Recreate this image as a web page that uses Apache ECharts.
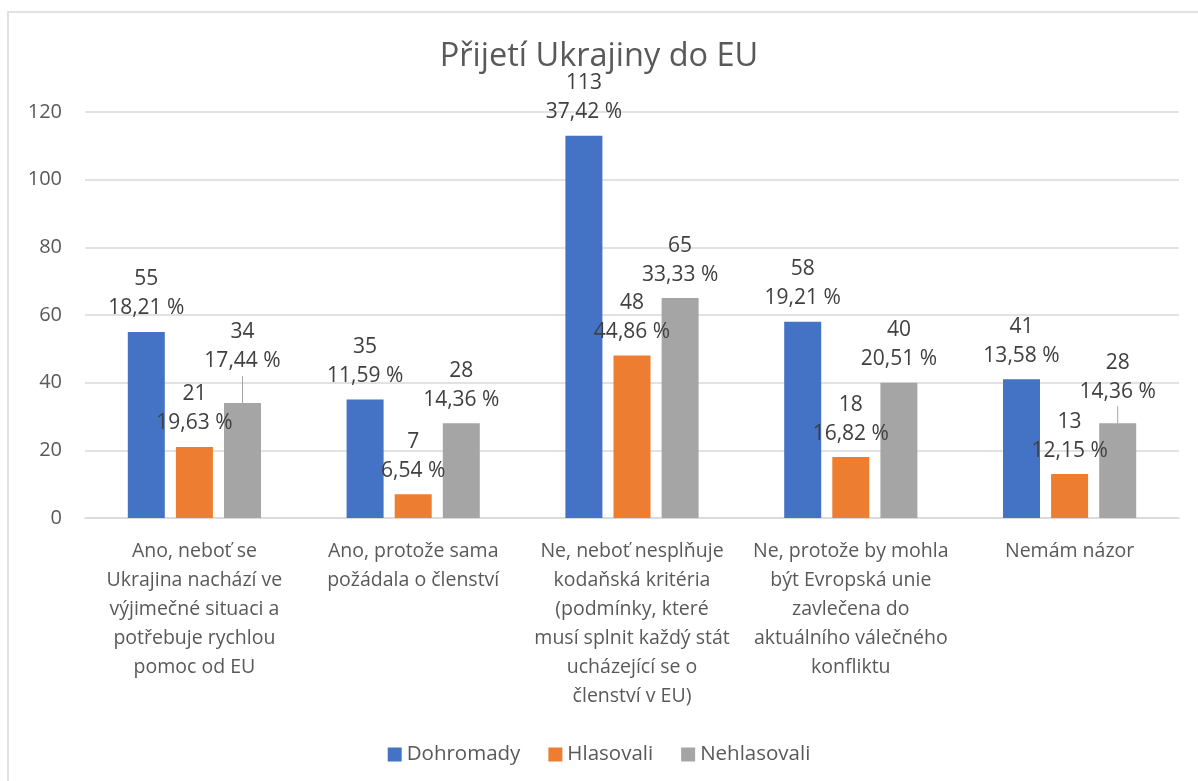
<!DOCTYPE html>
<html>
<head>
<meta charset="utf-8">
<title>Přijetí Ukrajiny do EU</title>
<script src="https://cdn.jsdelivr.net/npm/echarts@6/dist/echarts.min.js"></script>
<style>
  html, body { margin: 0; padding: 0; background: #fff; }
  #chart { width: 1198px; height: 781px; }
</style>
</head>
<body>
<div id="chart"></div>
<script>
// kategorie (zalomeno jako v originale)
var categories = [
  'Ano, neboť se\nUkrajina nachází ve\nvýjimečné situaci a\npotřebuje rychlou\npomoc od EU',
  'Ano, protože sama\npožádala o členství',
  'Ne, neboť nesplňuje\nkodaňská kritéria\n(podmínky, které\nmusí splnit každý stát\nucházející se o\nčlenství v EU)',
  'Ne, protože by mohla\nbýt Evropská unie\nzavlečena do\naktuálního válečného\nkonfliktu',
  'Nemám názor'
];
var seriesNames = ['Dohromady', 'Hlasovali', 'Nehlasovali'];

var totalValues = [55, 35, 113, 58, 41];
var totalPct = ['18,21 %', '11,59 %', '37,42 %', '19,21 %', '13,58 %'];
var votedValues = [21, 7, 48, 18, 13];
var votedPct = ['19,63 %', '6,54 %', '44,86 %', '16,82 %', '12,15 %'];
var notVotedValues = [34, 28, 65, 40, 28];
var notVotedPct = ['17,44 %', '14,36 %', '33,33 %', '20,51 %', '14,36 %'];

var yTicks = { min: 0, max: 120, interval: 20 };

var FONT = '"Open Sans", "Noto Sans", sans-serif';
var colors = ['#4472C4', '#ED7D31', '#A5A5A5'];

// popisky posunuté nahoru s vodící čarou (série_index: posun)
var shifted = { '2_0': -18, '2_4': -8 };

var makeSeries = function(idx, values, pcts) {
  var data = values.map(function(v, i) {
    var item = { value: v };
    if (shifted[idx + '_' + i]) {
      item.labelLine = { show: true };
    }
    return item;
  });
  return {
    name: seriesNames[idx],
    type: 'bar',
    barWidth: 37,
    barGap: '30%',
    itemStyle: { color: colors[idx] },
    label: {
      show: true,
      position: 'top',
      distance: 9,
      fontFamily: FONT,
      fontSize: 21,
      lineHeight: 29,
      color: '#404040',
      formatter: function(p) {
        return p.value + '\n' + pcts[p.dataIndex];
      }
    },
    labelLine: {
      show: false,
      lineStyle: { color: '#A6A6A6', width: 1 }
    },
    labelLayout: function(p) {
      var dy = shifted[idx + '_' + p.dataIndex];
      return dy ? { dy: dy } : {};
    },
    data: data
  };
};

var chart = echarts.init(document.getElementById('chart'));

var option = {
  animation: false,
  textStyle: { fontFamily: FONT },
  graphic: [{
    type: 'rect',
    shape: { x: 8, y: 12, width: 1400, height: 1000 },
    style: { fill: 'none', stroke: '#D9D9D9', lineWidth: 1.5 },
    silent: true
  }],
  title: {
    text: 'Přijetí Ukrajiny do EU',
    left: 'center',
    top: 37,
    padding: 0,
    textStyle: {
      fontFamily: FONT,
      fontSize: 32.5,
      fontWeight: 'normal',
      color: '#595959',
      lineHeight: 40
    }
  },
  legend: {
    data: seriesNames,
    left: 'center',
    top: 739,
    icon: 'rect',
    itemWidth: 14,
    itemHeight: 14,
    itemGap: 28,
    textStyle: { fontFamily: FONT, fontSize: 20.5, color: '#595959' }
  },
  grid: {
    left: 85,
    right: 19,
    top: 112,
    bottom: 263,
    containLabel: false
  },
  xAxis: {
    type: 'category',
    data: categories,
    axisLine: { lineStyle: { color: '#D9D9D9', width: 1.5 } },
    axisTick: { show: false },
    axisLabel: {
      interval: 0,
      margin: 19,
      fontFamily: FONT,
      fontSize: 19.5,
      lineHeight: 29,
      color: '#595959',
      align: 'center'
    }
  },
  yAxis: {
    type: 'value',
    min: yTicks.min,
    max: yTicks.max,
    interval: yTicks.interval,
    axisLine: { show: false },
    axisTick: { show: false },
    axisLabel: {
      margin: 23,
      fontFamily: FONT,
      fontSize: 20,
      color: '#595959'
    },
    splitLine: { lineStyle: { color: '#D9D9D9', width: 1.5 } }
  },
  series: [
    makeSeries(0, totalValues, totalPct),
    makeSeries(1, votedValues, votedPct),
    makeSeries(2, notVotedValues, notVotedPct)
  ]
};

chart.setOption(option);
</script>
</body>
</html>
